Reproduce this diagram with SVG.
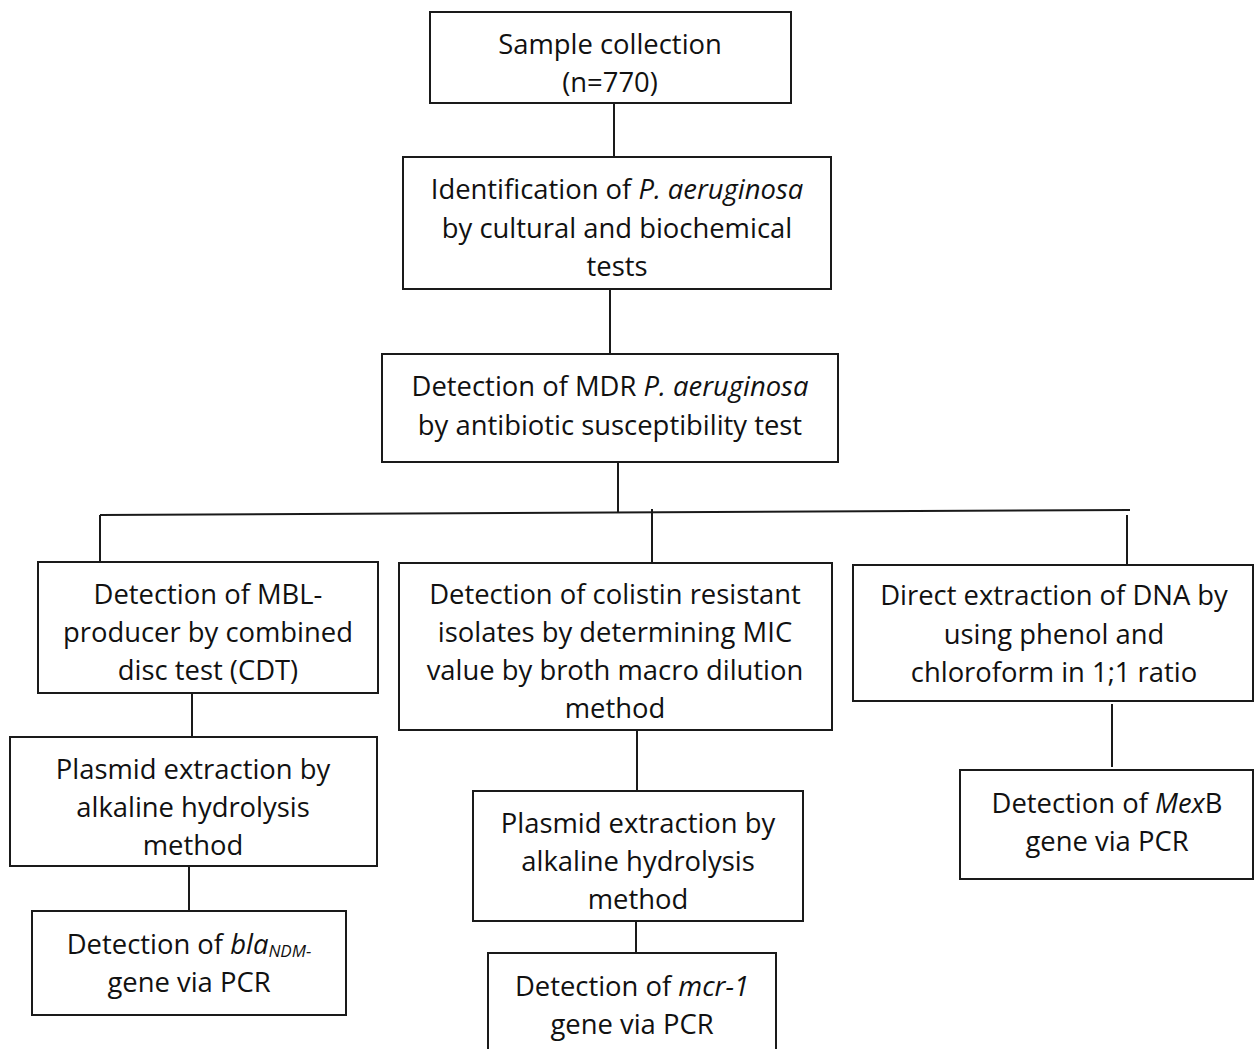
<svg xmlns="http://www.w3.org/2000/svg" width="1255" height="1049" viewBox="0 0 1255 1049">
<style>
.box{fill:#fff;stroke:#1a1a1a;stroke-width:2}
.ln{stroke:#1a1a1a;stroke-width:2;fill:none}
text{font-family:"Open Sans","Noto Sans",sans-serif;font-size:27.4px;fill:#111;text-anchor:middle}
.i{font-style:italic}
.sub{font-size:17px;font-style:italic}
</style>
<rect width="1255" height="1049" fill="#fff"/>
<g id="connectors">
<line class="ln" x1="614" y1="103" x2="614" y2="157"/>
<line class="ln" x1="610" y1="289" x2="610" y2="354"/>
<line class="ln" x1="618" y1="462" x2="618" y2="513"/>
<line class="ln" x1="100" y1="515" x2="1130" y2="510"/>
<line class="ln" x1="100" y1="515" x2="100" y2="562"/>
<line class="ln" x1="652" y1="509" x2="652" y2="565"/>
<line class="ln" x1="1127" y1="515" x2="1127" y2="565"/>
<line class="ln" x1="192" y1="693" x2="192" y2="737"/>
<line class="ln" x1="189" y1="866" x2="189" y2="911"/>
<line class="ln" x1="637" y1="730" x2="637" y2="791"/>
<line class="ln" x1="636" y1="921" x2="636" y2="953"/>
<line class="ln" x1="1112" y1="704" x2="1112" y2="767"/>
</g>
<g id="n1">
<rect class="box" x="430" y="12" width="361" height="91"/>
<text x="610" y="54">Sample collection</text>
<text x="610" y="92">(n=770)</text>
</g>
<g id="n2">
<rect class="box" x="403" y="157" width="428" height="132"/>
<text x="617" y="199">Identification of <tspan class="i">P. aeruginosa</tspan></text>
<text x="617" y="238">by cultural and biochemical</text>
<text x="617" y="276">tests</text>
</g>
<g id="n3">
<rect class="box" x="382" y="354" width="456" height="108"/>
<text x="610" y="396">Detection of MDR <tspan class="i">P. aeruginosa</tspan></text>
<text x="610" y="435">by antibiotic susceptibility test</text>
</g>
<g id="n4">
<rect class="box" x="38" y="562" width="340" height="131"/>
<text x="208" y="604">Detection of MBL-</text>
<text x="208" y="642">producer by combined</text>
<text x="208" y="680">disc test (CDT)</text>
</g>
<g id="n5">
<rect class="box" x="399" y="563" width="433" height="167"/>
<text x="615" y="604">Detection of colistin resistant</text>
<text x="615" y="642">isolates by determining MIC</text>
<text x="615" y="680">value by broth macro dilution</text>
<text x="615" y="718">method</text>
</g>
<g id="n6">
<rect class="box" x="853" y="565" width="400" height="136"/>
<text x="1054" y="605">Direct extraction of DNA by</text>
<text x="1054" y="644">using phenol and</text>
<text x="1054" y="682">chloroform in 1;1 ratio</text>
</g>
<g id="n7">
<rect class="box" x="10" y="737" width="367" height="129"/>
<text x="193" y="779">Plasmid extraction by</text>
<text x="193" y="817">alkaline hydrolysis</text>
<text x="193" y="855">method</text>
</g>
<g id="n8">
<rect class="box" x="32" y="911" width="314" height="104"/>
<text x="189" y="954">Detection of <tspan class="i">bla</tspan><tspan class="sub" dy="3">NDM-</tspan></text>
<text x="189" y="992">gene via PCR</text>
</g>
<g id="n9">
<rect class="box" x="473" y="791" width="330" height="130"/>
<text x="638" y="833">Plasmid extraction by</text>
<text x="638" y="871">alkaline hydrolysis</text>
<text x="638" y="909">method</text>
</g>
<g id="n10">
<rect class="box" x="488" y="953" width="288" height="110"/>
<text x="632" y="996">Detection of <tspan class="i">mcr-1</tspan></text>
<text x="632" y="1034">gene via PCR</text>
</g>
<g id="n11">
<rect class="box" x="960" y="770" width="293" height="109"/>
<text x="1107" y="813">Detection of <tspan class="i">Mex</tspan>B</text>
<text x="1107" y="851">gene via PCR</text>
</g>
</svg>
